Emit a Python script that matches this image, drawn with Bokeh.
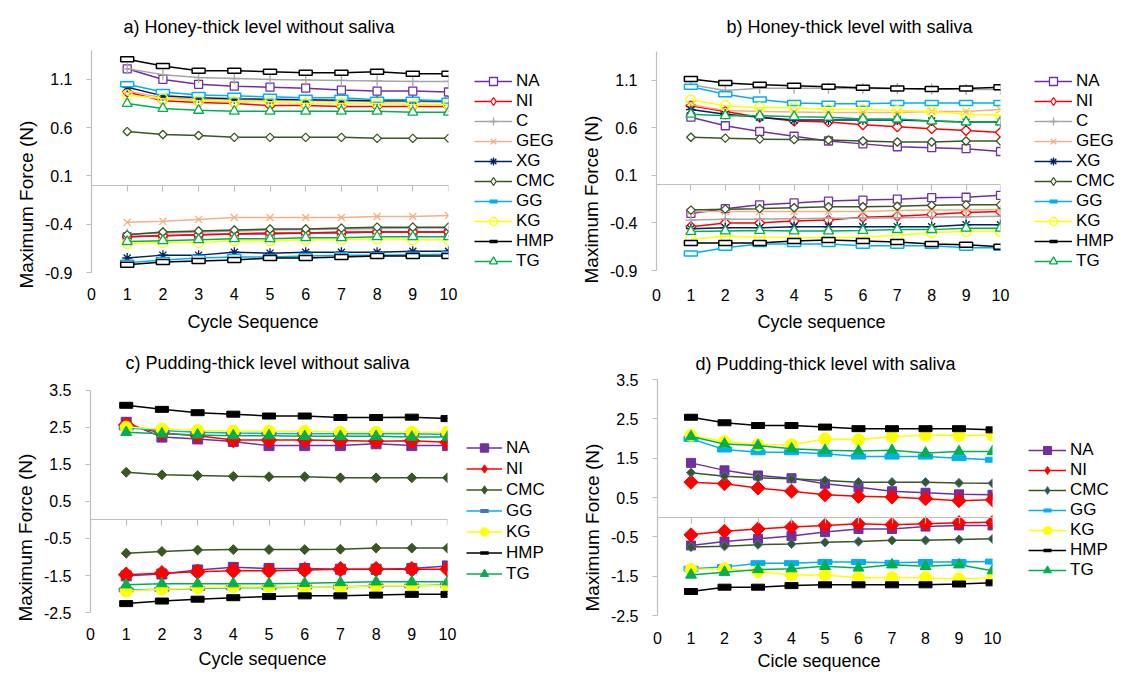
import math
from bokeh.plotting import figure
from bokeh.models import Range1d, FixedTicker, LinearAxis, Legend, LegendItem, Title
from bokeh.layouts import column, row
from bokeh.embed import file_html
from bokeh.resources import INLINE

FONT = "Liberation Sans"
GRAY = "#BFBFBF"
NAN = float("nan")

CYCLES = [1, 2, 3, 4, 5, 6, 7, 8, 9, 10]
X_TICKS = [0, 1, 2, 3, 4, 5, 6, 7, 8, 9, 10]
Y_TICKS_AB = [-0.9, -0.4, 0.1, 0.6, 1.1]
Y_TICKS_CD = [-2.5, -1.5, -0.5, 0.5, 1.5, 2.5, 3.5]

NAMES_AB = ["NA", "NI", "C", "GEG", "XG", "CMC", "GG", "KG", "HMP", "TG"]
NAMES_CD = ["NA", "NI", "CMC", "GG", "KG", "HMP", "TG"]

TITLE_A = "a) Honey-thick level without saliva"
TITLE_B = "b) Honey-thick level with saliva"
TITLE_C = "c) Pudding-thick level without saliva"
TITLE_D = "d) Pudding-thick level with saliva"
XLABEL_A = "Cycle Sequence"
XLABEL_B = "Cycle sequence"
XLABEL_C = "Cycle sequence"
XLABEL_D = "Cicle sequence"
YLABEL = "Maximum Force (N)"

# ---- panel a: honey-thick, without saliva ----
A_NA_UP = [1.21, 1.10, 1.05, 1.03, 1.02, 1.01, 0.99, 0.98, 0.98, 0.97]
A_NA_DN = [-0.53, -0.52, -0.51, -0.50, -0.50, -0.49, -0.49, -0.48, -0.48, -0.48]
A_NI_UP = [0.97, 0.88, 0.86, 0.85, 0.83, 0.83, 0.82, 0.82, 0.82, 0.82]
A_NI_DN = [-0.53, -0.52, -0.51, -0.50, -0.49, -0.49, -0.48, -0.48, -0.48, -0.48]
A_C_UP = [1.21, 1.15, 1.12, 1.11, 1.10, 1.095, 1.09, 1.085, 1.08, 1.08]
A_C_DN = [-0.50, -0.49, -0.48, -0.47, -0.46, -0.455, -0.45, -0.445, -0.44, -0.44]
A_GEG_UP = [0.98, 0.91, 0.895, 0.89, 0.885, 0.88, 0.875, 0.87, 0.87, 0.865]
A_GEG_DN = [-0.38, -0.37, -0.35, -0.33, -0.33, -0.33, -0.33, -0.32, -0.32, -0.31]
A_XG_UP = [1.02, 0.93, 0.91, 0.90, 0.895, 0.89, 0.885, 0.88, 0.88, 0.875]
A_XG_DN = [-0.75, -0.72, -0.72, -0.69, -0.70, -0.69, -0.69, -0.69, -0.68, -0.68]
A_CMC_UP = [0.56, 0.53, 0.52, 0.50, 0.50, 0.50, 0.50, 0.49, 0.49, 0.49]
A_CMC_DN = [-0.51, -0.48, -0.47, -0.46, -0.45, -0.45, -0.44, -0.43, -0.43, -0.43]
A_GG_UP = [1.05, 0.97, 0.94, 0.93, 0.92, 0.91, 0.91, 0.89, 0.89, 0.88]
A_GG_DN = [-0.80, -0.77, -0.75, -0.74, -0.74, -0.73, -0.72, -0.72, -0.715, -0.71]
A_KG_UP = [0.94, 0.90, 0.88, 0.87, 0.87, 0.85, 0.85, 0.85, 0.84, 0.84]
A_KG_DN = [-0.60, -0.59, -0.59, -0.57, -0.57, -0.56, -0.56, -0.55, -0.56, -0.56]
A_HMP_UP = [1.31, 1.24, 1.19, 1.19, 1.18, 1.17, 1.17, 1.18, 1.16, 1.16]
A_HMP_DN = [-0.82, -0.79, -0.78, -0.77, -0.75, -0.75, -0.74, -0.73, -0.73, -0.73]
A_TG_UP = [0.85, 0.80, 0.78, 0.77, 0.77, 0.77, 0.77, 0.77, 0.76, 0.76]
A_TG_DN = [-0.58, -0.57, -0.56, -0.55, -0.55, -0.54, -0.54, -0.53, -0.53, -0.53]

# ---- panel b: honey-thick, with saliva ----
B_NA_UP = [0.71, 0.62, 0.56, 0.51, 0.46, 0.43, 0.40, 0.39, 0.38, 0.35]
B_NA_DN = [-0.30, -0.25, -0.21, -0.19, -0.17, -0.16, -0.15, -0.135, -0.13, -0.11]
B_NI_UP = [0.83, 0.77, 0.71, 0.67, 0.66, 0.63, 0.61, 0.59, 0.57, 0.55]
B_NI_DN = [-0.44, -0.40, -0.40, -0.38, -0.37, -0.34, -0.33, -0.31, -0.29, -0.28]
B_C_UP = [1.05, 0.99, 1.015, 1.015, 1.015, 1.01, 1.01, 1.005, 1.0, 1.0]
B_C_DN = [-0.37, -0.36, -0.36, -0.355, -0.35, -0.35, -0.345, -0.34, -0.335, -0.33]
B_GEG_UP = [0.84, 0.78, 0.77, 0.765, 0.76, 0.76, 0.76, 0.77, 0.77, 0.79]
B_GEG_DN = [-0.28, -0.28, -0.28, -0.28, -0.28, -0.28, -0.27, -0.265, -0.265, -0.26]
B_XG_UP = [0.79, 0.74, 0.71, 0.68, 0.68, 0.68, 0.68, 0.67, 0.66, 0.66]
B_XG_DN = [-0.46, -0.45, -0.45, -0.44, -0.44, -0.44, -0.44, -0.44, -0.42, -0.42]
B_CMC_UP = [0.50, 0.49, 0.48, 0.475, 0.47, 0.46, 0.45, 0.45, 0.46, 0.46]
B_CMC_DN = [-0.265, -0.255, -0.25, -0.24, -0.23, -0.23, -0.225, -0.215, -0.21, -0.21]
B_GG_UP = [1.03, 0.95, 0.895, 0.86, 0.85, 0.85, 0.86, 0.86, 0.86, 0.86]
B_GG_DN = [-0.72, -0.66, -0.62, -0.62, -0.62, -0.64, -0.64, -0.64, -0.66, -0.66]
B_KG_UP = [0.89, 0.83, 0.81, 0.81, 0.79, 0.79, 0.78, 0.77, 0.74, 0.73]
B_KG_DN = [-0.57, -0.54, -0.55, -0.555, -0.555, -0.55, -0.53, -0.50, -0.49, -0.49]
B_HMP_UP = [1.11, 1.07, 1.05, 1.04, 1.03, 1.02, 1.01, 1.005, 1.01, 1.025]
B_HMP_DN = [-0.61, -0.61, -0.61, -0.59, -0.58, -0.59, -0.60, -0.62, -0.63, -0.65]
B_TG_UP = [0.74, 0.725, 0.725, 0.715, 0.71, 0.69, 0.69, 0.67, 0.66, 0.66]
B_TG_DN = [-0.49, -0.485, -0.48, -0.485, -0.485, -0.48, -0.47, -0.47, -0.455, -0.455]

# ---- panel c: pudding-thick, without saliva ----
C_NA_UP = [2.64, 2.24, 2.19, 2.12, 2.01, 2.01, 2.01, 2.06, 2.01, 2.01]
C_NA_DN = [-1.51, -1.46, -1.35, -1.28, -1.31, -1.31, -1.33, -1.33, -1.31, -1.24]
C_NI_UP = [2.57, 2.35, 2.28, 2.16, 2.16, 2.16, 2.15, 2.13, 2.14, 2.10]
C_NI_DN = [-1.48, -1.44, -1.40, -1.37, -1.37, -1.35, -1.33, -1.33, -1.33, -1.33]
C_CMC_UP = [1.29, 1.22, 1.20, 1.18, 1.17, 1.17, 1.14, 1.14, 1.14, 1.14]
C_CMC_DN = [-0.90, -0.85, -0.81, -0.80, -0.80, -0.80, -0.79, -0.76, -0.76, -0.76]
C_GG_UP = [2.49, 2.42, 2.37, 2.35, 2.34, 2.33, 2.33, 2.33, 2.33, 2.31]
C_GG_DN = [-1.89, -1.87, -1.85, -1.83, -1.83, -1.81, -1.81, -1.78, -1.78, -1.76]
C_KG_UP = [2.51, 2.46, 2.42, 2.40, 2.40, 2.40, 2.37, 2.37, 2.37, 2.37]
C_KG_DN = [-1.92, -1.87, -1.83, -1.81, -1.81, -1.81, -1.81, -1.78, -1.78, -1.78]
C_HMP_UP = [3.10, 2.99, 2.90, 2.86, 2.81, 2.81, 2.77, 2.77, 2.78, 2.74]
C_HMP_DN = [-2.26, -2.19, -2.14, -2.10, -2.07, -2.05, -2.05, -2.03, -2.01, -2.01]
C_TG_UP = [2.37, 2.33, 2.30, 2.28, 2.28, 2.26, 2.26, 2.26, 2.24, 2.24]
C_TG_DN = [-1.75, -1.72, -1.72, -1.72, -1.72, -1.71, -1.69, -1.67, -1.67, -1.67]

# ---- panel d: pudding-thick, with saliva ----
D_NA_UP = [1.38, 1.19, 1.06, 0.99, 0.85, 0.76, 0.66, 0.62, 0.58, 0.57]
D_NA_DN = [-0.72, -0.62, -0.55, -0.48, -0.38, -0.30, -0.30, -0.24, -0.21, -0.21]
D_NI_UP = [0.89, 0.85, 0.74, 0.66, 0.57, 0.53, 0.51, 0.47, 0.42, 0.44]
D_NI_DN = [-0.45, -0.36, -0.30, -0.25, -0.21, -0.17, -0.19, -0.17, -0.14, -0.13]
D_CMC_UP = [1.13, 1.04, 1.00, 0.975, 0.93, 0.89, 0.89, 0.89, 0.87, 0.86]
D_CMC_DN = [-0.76, -0.74, -0.70, -0.68, -0.64, -0.62, -0.59, -0.59, -0.57, -0.55]
D_GG_UP = [1.99, 1.72, 1.65, 1.65, 1.61, 1.54, 1.54, 1.54, 1.50, 1.46]
D_GG_DN = [-1.31, -1.27, -1.17, -1.17, -1.14, -1.14, -1.16, -1.14, -1.14, -1.13]
D_KG_UP = [2.08, 1.92, 1.84, 1.84, 1.99, 1.97, 2.05, 2.08, 2.08, 2.08]
D_KG_DN = [-1.33, -1.31, -1.38, -1.47, -1.47, -1.54, -1.54, -1.54, -1.57, -1.54]
D_HMP_UP = [2.54, 2.40, 2.33, 2.33, 2.29, 2.25, 2.25, 2.25, 2.25, 2.22]
D_HMP_DN = [-1.89, -1.78, -1.78, -1.74, -1.72, -1.72, -1.72, -1.72, -1.70, -1.67]
D_TG_UP = [2.05, 1.86, 1.82, 1.74, 1.70, 1.68, 1.70, 1.63, 1.67, 1.67]
D_TG_DN = [-1.47, -1.40, -1.33, -1.31, -1.25, -1.29, -1.21, -1.25, -1.21, -1.36]

COLORS = {"NA": "#7030A0", "NI": "#FF0000", "C": "#A6A6A6", "GEG": "#F4B183",
          "XG": "#002060", "CMC": "#385723", "GG": "#00B0F0", "KG": "#FFFF00",
          "HMP": "#000000", "TG": "#00B050"}

D45 = math.pi / 4

# plot marker styles; "lmarker"/"lsize" are the legend swatch variants
STYLE_OPEN = {
    "NA": dict(marker="square", size=8, fill="white", edge=COLORS["NA"], lw=1.3),
    "NI": dict(marker="square", size=7, angle=D45, fill="white", edge=COLORS["NI"], lw=1.3,
               lmarker="diamond", lsize=13),
    "C": dict(marker="cross", size=11, fill=None, edge=COLORS["C"], lw=1.3),
    "GEG": dict(marker="x", size=10, fill=None, edge=COLORS["GEG"], lw=1.3),
    "XG": dict(marker="asterisk", size=10, fill=None, edge=COLORS["XG"], lw=1.3),
    "CMC": dict(marker="square", size=6, angle=D45, fill="white", edge=COLORS["CMC"], lw=1.3,
                lmarker="diamond", lsize=11),
    "GG": dict(marker="rect", w=13, h=5, fill="white", edge=COLORS["GG"], lw=1.5,
               lmark=dict(size=12, lw=4, color="#00B0F0")),
    "KG": dict(marker="circle", size=10, fill=None, edge=COLORS["KG"], lw=1.3),
    "HMP": dict(marker="rect", w=13, h=5, fill="white", edge=COLORS["HMP"], lw=1.5,
                lmark=dict(size=7, lw=3.5, color="#000000")),
    "TG": dict(marker="triangle", size=10, fill="white", edge=COLORS["TG"], lw=1.3),
}

STYLE_C = {
    "NA": dict(marker="square", size=10, fill=COLORS["NA"], edge=COLORS["NA"], lw=1),
    "NI": dict(marker="square", size=11, angle=D45, fill=COLORS["NI"], edge=COLORS["NI"], lw=1,
               lmarker="diamond", lsize=17),
    "CMC": dict(marker="square", size=7, angle=D45, fill=COLORS["CMC"], edge=COLORS["CMC"], lw=1,
                lmarker="diamond", lsize=12),
    "GG": dict(marker="rect", w=14, h=4, fill="#4472C4", edge="#4472C4", lw=1,
               lmark=dict(size=12, lw=4, color="#4472C4")),
    "KG": dict(marker="circle", size=12, fill=COLORS["KG"], edge=COLORS["KG"], lw=1),
    "HMP": dict(marker="rect", w=13, h=6, fill="#000000", edge="#000000", lw=1,
                lmark=dict(size=7, lw=3.5, color="#000000")),
    "TG": dict(marker="triangle", size=11, fill=COLORS["TG"], edge=COLORS["TG"], lw=1),
}

STYLE_D = {
    "NA": dict(marker="square", size=9, fill=COLORS["NA"], edge=COLORS["NA"], lw=1),
    "NI": dict(marker="square", size=10, angle=D45, fill=COLORS["NI"], edge=COLORS["NI"], lw=1,
               lmarker="diamond", lsize=16),
    "CMC": dict(marker="square", size=6.5, angle=D45, fill=COLORS["CMC"], edge="#4472C4", lw=1,
                lmarker="diamond", lsize=12),
    "GG": dict(marker="rect", w=14, h=5, fill="#00B0F0", edge="#00B0F0", lw=1,
               lmark=dict(size=12, lw=4, color="#00B0F0")),
    "KG": dict(marker="circle", size=12, fill=COLORS["KG"], edge=COLORS["KG"], lw=1),
    "HMP": dict(marker="rect", w=13, h=6, fill="#000000", edge="#000000", lw=1,
                lmark=dict(size=7, lw=3.5, color="#000000")),
    "TG": dict(marker="triangle", size=11, fill=COLORS["TG"], edge=COLORS["TG"], lw=1),
}

A_UP = {"NA": A_NA_UP, "NI": A_NI_UP, "C": A_C_UP, "GEG": A_GEG_UP, "XG": A_XG_UP,
        "CMC": A_CMC_UP, "GG": A_GG_UP, "KG": A_KG_UP, "HMP": A_HMP_UP, "TG": A_TG_UP}
A_DN = {"NA": A_NA_DN, "NI": A_NI_DN, "C": A_C_DN, "GEG": A_GEG_DN, "XG": A_XG_DN,
        "CMC": A_CMC_DN, "GG": A_GG_DN, "KG": A_KG_DN, "HMP": A_HMP_DN, "TG": A_TG_DN}
B_UP = {"NA": B_NA_UP, "NI": B_NI_UP, "C": B_C_UP, "GEG": B_GEG_UP, "XG": B_XG_UP,
        "CMC": B_CMC_UP, "GG": B_GG_UP, "KG": B_KG_UP, "HMP": B_HMP_UP, "TG": B_TG_UP}
B_DN = {"NA": B_NA_DN, "NI": B_NI_DN, "C": B_C_DN, "GEG": B_GEG_DN, "XG": B_XG_DN,
        "CMC": B_CMC_DN, "GG": B_GG_DN, "KG": B_KG_DN, "HMP": B_HMP_DN, "TG": B_TG_DN}
C_UP = {"NA": C_NA_UP, "NI": C_NI_UP, "CMC": C_CMC_UP, "GG": C_GG_UP, "KG": C_KG_UP,
        "HMP": C_HMP_UP, "TG": C_TG_UP}
C_DN = {"NA": C_NA_DN, "NI": C_NI_DN, "CMC": C_CMC_DN, "GG": C_GG_DN, "KG": C_KG_DN,
        "HMP": C_HMP_DN, "TG": C_TG_DN}
D_UP = {"NA": D_NA_UP, "NI": D_NI_UP, "CMC": D_CMC_UP, "GG": D_GG_UP, "KG": D_KG_UP,
        "HMP": D_HMP_UP, "TG": D_TG_UP}
D_DN = {"NA": D_NA_DN, "NI": D_NI_DN, "CMC": D_CMC_DN, "GG": D_GG_DN, "KG": D_KG_DN,
        "HMP": D_HMP_DN, "TG": D_TG_DN}


def draw_markers(p, xs, ys, st):
    if st["marker"] == "rect":
        return p.rect(x=xs, y=ys, width=st["w"], height=st["h"], width_units="screen",
                      height_units="screen", fill_color=st["fill"], line_color=st["edge"],
                      line_width=st["lw"])
    return p.scatter(x=xs, y=ys, marker=st["marker"], size=st["size"], angle=st.get("angle", 0),
                     fill_color=st["fill"], line_color=st["edge"], line_width=st["lw"])


def text_title(text, size, align, offset, standoff):
    t = Title(text=text, align=align, offset=offset, standoff=standoff)
    t.text_font = FONT
    t.text_font_size = size
    t.text_font_style = "normal"
    t.text_color = "#000000"
    return t


def panel(title, xlabel, yticks, yr, ybounds, names, up, dn, styles, g):
    W, H, L, R, T, B = g["box"]
    p = figure(width=W, height=H, x_range=Range1d(0, 10), y_range=Range1d(*yr),
               output_backend="svg", toolbar_location=None,
               min_border_left=L, min_border_right=R, min_border_top=T, min_border_bottom=B)
    p.outline_line_color = None
    p.xgrid.visible = False
    p.ygrid.visible = False
    p.background_fill_color = "white"
    p.border_fill_color = "white"

    p.add_layout(text_title(title, "18px", g["t_align"], g["t_offset"], g["t_standoff"]), "above")

    # tick labels along the bottom edge of the frame
    xa = p.xaxis[0]
    xa.ticker = FixedTicker(ticks=X_TICKS)
    xa.axis_line_color = None
    xa.major_tick_line_color = None
    xa.minor_tick_line_color = None
    xa.major_tick_out = 0
    xa.major_tick_in = 0
    xa.major_label_standoff = g["xl_standoff"]
    xa.major_label_text_font = FONT
    xa.major_label_text_font_size = "16px"
    xa.major_label_text_color = "#000000"

    p.add_layout(text_title(xlabel, "18px", "left", g["xt_offset"], g["xt_standoff"]), "below")

    # the gray axis line through y = 0 with its tick marks
    za = LinearAxis(fixed_location=0, ticker=FixedTicker(ticks=X_TICKS),
                    axis_line_color=GRAY, axis_line_width=1.2,
                    major_tick_line_color=GRAY, major_tick_line_width=1.2,
                    major_tick_out=6, major_tick_in=0, minor_tick_line_color=None,
                    major_label_overrides={t: "" for t in X_TICKS},
                    major_label_text_font_size="1px")
    p.add_layout(za, "below")

    ya = p.yaxis[0]
    ya.ticker = FixedTicker(ticks=yticks)
    ya.bounds = ybounds
    ya.major_label_overrides = {t: str(t) for t in yticks}
    ya.axis_line_color = GRAY
    ya.axis_line_width = 1.2
    ya.major_tick_line_color = GRAY
    ya.major_tick_out = 5
    ya.major_tick_in = 0
    ya.minor_tick_line_color = None
    ya.major_label_standoff = 14
    ya.major_label_text_font = FONT
    ya.major_label_text_font_size = "16px"
    ya.major_label_text_color = "#000000"

    p.add_layout(text_title(YLABEL, "19px", "left", g["yt_offset"], g["yt_standoff"]), "left")

    for name in names:
        st = styles[name]
        col = COLORS[name]
        p.line(x=CYCLES, y=up[name], line_color=col, line_width=1.5)
        draw_markers(p, CYCLES, up[name], st)
        p.line(x=CYCLES, y=dn[name], line_color=col, line_width=1.5)
        draw_markers(p, CYCLES, dn[name], st)
    return p


def legend_panel(names, styles, g):
    W, H, T, B = g["lbox"]
    q = figure(width=W, height=H, x_range=Range1d(0, 1), y_range=Range1d(0, 1),
               x_axis_type=None, y_axis_type=None, output_backend="svg",
               toolbar_location=None, min_border_left=0, min_border_right=0,
               min_border_top=T, min_border_bottom=B)
    q.outline_line_color = None
    q.background_fill_color = "white"
    q.border_fill_color = "white"
    items = []
    for name in names:
        st = styles[name]
        ln = q.line(x=[NAN, NAN], y=[NAN, NAN], line_color=COLORS[name], line_width=1.5)
        if st["marker"] == "rect":
            lm = st["lmark"]
            mk = q.scatter(x=[NAN], y=[NAN], marker="dash", size=lm["size"],
                           line_color=lm["color"], line_width=lm["lw"])
        else:
            mk = q.scatter(x=[NAN], y=[NAN], marker=st.get("lmarker", st["marker"]),
                           size=st.get("lsize", st["size"]), fill_color=st["fill"],
                           line_color=st["edge"], line_width=st["lw"])
        items.append(LegendItem(label=name, renderers=[ln, mk]))
    leg = Legend(items=items, location=g["leg_loc"], orientation="vertical",
                 label_text_font=FONT, label_text_font_size="17px", label_text_color="#000000",
                 glyph_width=g["glyph_w"], glyph_height=g["item_h"], label_height=g["item_h"],
                 label_standoff=4, spacing=0, padding=0, margin=0,
                 border_line_color=None, background_fill_alpha=0)
    q.add_layout(leg)
    return q


GEOM_A = dict(box=(474, 341, 91, 26, 44, 69), t_align="left", t_offset=32, t_standoff=28,
              xl_standoff=15, xt_offset=96, xt_standoff=14, yt_offset=-16, yt_standoff=10,
              lbox=(92, 341, 44, 69), leg_loc=(0, 1), glyph_w=38, item_h=20)
GEOM_B = dict(box=(468, 341, 90, 34, 44, 69), t_align="left", t_offset=70, t_standoff=28,
              xl_standoff=16, xt_offset=101, xt_standoff=13, yt_offset=-11, yt_standoff=10,
              lbox=(84, 341, 44, 69), leg_loc=(0, 1), glyph_w=38, item_h=20)
GEOM_C = dict(box=(465, 334, 90, 18, 38, 60), t_align="left", t_offset=35, t_standoff=13,
              xl_standoff=12, xt_offset=108, xt_standoff=8, yt_offset=-6, yt_standoff=10,
              lbox=(92, 334, 38, 60), leg_loc=(1, 31), glyph_w=36, item_h=21)
GEOM_D = dict(box=(470, 334, 100, 35, 38, 60), t_align="left", t_offset=38, t_standoff=11,
              xl_standoff=16, xt_offset=100, xt_standoff=4, yt_offset=4, yt_standoff=10,
              lbox=(91, 334, 38, 60), leg_loc=(1, 35), glyph_w=38, item_h=20)

pa = panel(TITLE_A, XLABEL_A, Y_TICKS_AB, (-0.9, 1.4), (-0.9, 1.4), NAMES_AB, A_UP, A_DN, STYLE_OPEN, GEOM_A)
pb = panel(TITLE_B, XLABEL_B, Y_TICKS_AB, (-0.92, 1.41), (-0.9, 1.4), NAMES_AB, B_UP, B_DN, STYLE_OPEN, GEOM_B)
pc = panel(TITLE_C, XLABEL_C, Y_TICKS_CD, (-2.581, 3.797), (-2.5, 3.5), NAMES_CD, C_UP, C_DN, STYLE_C, GEOM_C)
pd_ = panel(TITLE_D, XLABEL_D, Y_TICKS_CD, (-2.5, 3.5), (-2.5, 3.5), NAMES_CD, D_UP, D_DN, STYLE_D, GEOM_D)

la = legend_panel(NAMES_AB, STYLE_OPEN, GEOM_A)
lb = legend_panel(NAMES_AB, STYLE_OPEN, GEOM_B)
lc = legend_panel(NAMES_CD, STYLE_C, GEOM_C)
ld = legend_panel(NAMES_CD, STYLE_D, GEOM_D)

layout = column(row(pa, la, pb, lb, spacing=0), row(pc, lc, pd_, ld, spacing=0), spacing=0)

open("out.html", "w").write(file_html(layout, INLINE))
